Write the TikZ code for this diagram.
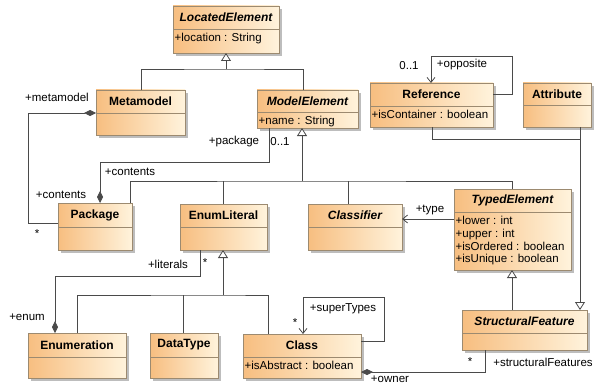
\documentclass[tikz,border=0pt]{standalone}
\usepackage{fontspec}
\setmainfont{Liberation Sans}
\usetikzlibrary{arrows.meta,calc}
\definecolor{boxA}{HTML}{F7BE80}
\definecolor{boxB}{HTML}{FFF3DC}
\definecolor{boxborder}{HTML}{9C8A70}
\definecolor{linec}{HTML}{4A4A4A}
\definecolor{shadowc}{HTML}{BDBDBD}
\tikzset{
  clsbox/.style={draw=boxborder, line width=0.8pt, left color=boxA, right color=boxB, inner sep=0pt, outer sep=0pt},
  clstitle/.style={font=\fontsize{12}{13}\selectfont\bfseries, inner sep=0pt},
  clsattr/.style={font=\fontsize{11.5}{12.8}\selectfont, align=left, anchor=north west, inner xsep=1.5pt, inner ysep=4pt},
  lab/.style={font=\fontsize{11.5}{13}\selectfont, inner sep=0pt},
  conn/.style={draw=linec, line width=0.8pt},
  gen/.style={conn, -{Triangle[open, fill=white, length=8pt, width=10pt]}},
  nav/.style={conn, -{Straight Barb[length=5pt, width=8pt]}},
  comp/.style={conn, {Diamond[length=12pt, width=6pt, fill=linec]}-}
}
\newcommand\umlcls[8]{%
  \fill[shadowc] ({#2+3},{#3+3}) rectangle ({#4+3},{#5+3});
  \node[clsbox, minimum width={(#4-#2)*1pt}, minimum height={(#5-#3)*1pt}, anchor=north west] (#1) at (#2,#3) {};
  \draw[draw=boxborder, line width=0.8pt] (#2,#6) -- (#4,#6);
  \node[clstitle] (#1-t) at ({(#2+#4)/2},{(#3+#6)/2}) {#7};
  \node[clsattr] (#1-a) at (#2,#6) {#8};
}
\begin{document}
\begin{tikzpicture}[x=1pt,y=-1pt]
\useasboundingbox[fill=white] (0,0) rectangle (601,385);

% classes
\umlcls{le}{173}{6}{279}{53}{29}{\itshape LocatedElement}{+location : String}
\umlcls{mm}{96}{90}{185}{135}{113}{Metamodel}{}
\umlcls{me}{257}{90}{358}{128}{112}{\itshape ModelElement}{+name : String}
\umlcls{ref}{370}{83}{493}{127}{106}{Reference}{+isContainer : boolean}
\umlcls{att}{523}{83}{591}{127}{105}{Attribute}{}
\umlcls{pkg}{58}{203}{132}{250}{227}{Package}{}
\umlcls{el}{180}{204}{267}{250}{227}{EnumLiteral}{}
\umlcls{cf}{308}{204}{402}{250}{227}{\itshape Classifier}{}
\umlcls{te}{454}{189}{571}{270}{212}{\itshape TypedElement}{+lower : int\\+upper : int\\+isOrdered : boolean\\+isUnique : boolean}
\umlcls{sf}{462}{310}{587}{350}{333}{\itshape StructuralFeature}{}
\umlcls{en}{28}{333}{126}{378}{357}{Enumeration}{}
\umlcls{dt}{150}{333}{218}{378}{357}{DataType}{}
\umlcls{cl}{243}{334}{361}{378}{357}{Class}{+isAbstract : boolean}

% generalization to LocatedElement
\coordinate (g1) at (226,69);
\draw[conn] (mm.north -| 141,0) |- (g1) -| (me.north -| 303,0);
\draw[gen] (g1) -- (le.south);

% generalization to ModelElement
\coordinate (g2) at (302,181);
\draw[conn] (pkg.north -| 130,0) |- (g2) -| (te.north -| 512,0);
\draw[conn] (el.north -| 223,0) -- (g2 -| 223,0);
\draw[conn] (cf.north -| 348,0) -- (g2 -| 348,0);
\draw[gen] (g2) -- (me.south -| 302,0);

% Package - ModelElement composition
\draw[comp] (pkg.north -| 100,0) -- (100,162) -| (me.south -| 269,0);
% Metamodel - Package composition
\draw[comp] (mm.west |- 0,113) -- (28,113) |- (pkg.west |- 0,223);

% Reference self association
\draw[nav] (ref.east |- 0,94) -| (512,56) -| (ref.north -| 431,0);

% Reference / Attribute generalization to StructuralFeature
\draw[conn] (ref.south -| 432,0) |- (580,139);
\draw[gen] (att.south -| 580,0) -- (sf.north -| 580,0);

% TypedElement -> Classifier
\draw[nav] (te.west |- 0,219) -- (cf.east |- 0,219);

% StructuralFeature -> TypedElement
\draw[gen] (sf.north -| 512,0) -- (te.south -| 512,0);

% Enumeration - EnumLiteral composition
\draw[comp] (en.north -| 55,0) -- (55,276) -| (el.south -| 200,0);

% generalization to EnumLiteral
\coordinate (g3) at (223,295);
\draw[conn] (en.north -| 77,0) |- (g3) -| (cl.north -| 268,0);
\draw[conn] (dt.north -| 183,0) -- (g3 -| 183,0);
\draw[gen] (g3) -- (el.south -| 223,0);

% Class self association
\draw[nav] (cl.east |- 0,341) -| (384,297) -| (cl.north -| 303,0);

% Class - StructuralFeature composition
\draw[comp] (cl.east |- 0,372) -| (sf.south -| 485,0);

% labels
\node[lab] (l1) at (57,97) {+metamodel};
\node[lab] (l2) at (61,195) {+contents};
\node[lab] (l3) at (37,234) {*};
\node[lab] (l4) at (234,142) {+package};
\node[lab] (l5) at (280,142) {0..1};
\node[lab] (l6) at (130,172) {+contents};
\node[lab] (l7) at (409,66) {0..1};
\node[lab] (l8) at (462,65) {+opposite};
\node[lab] (l9) at (430,210) {+type};
\node[lab] (l10) at (168,264) {+literals};
\node[lab] (l11) at (205,263) {*};
\node[lab] (l12) at (27,317) {+enum};
\node[lab] (l13) at (295,323) {*};
\node[lab] (l14) at (343,309) {+superTypes};
\node[lab] (l15) at (470,362) {*};
\node[lab] (l16) at (543,362) {+structuralFeatures};
\node[lab] (l17) at (390,379) {+owner};
\end{tikzpicture}
\end{document}
